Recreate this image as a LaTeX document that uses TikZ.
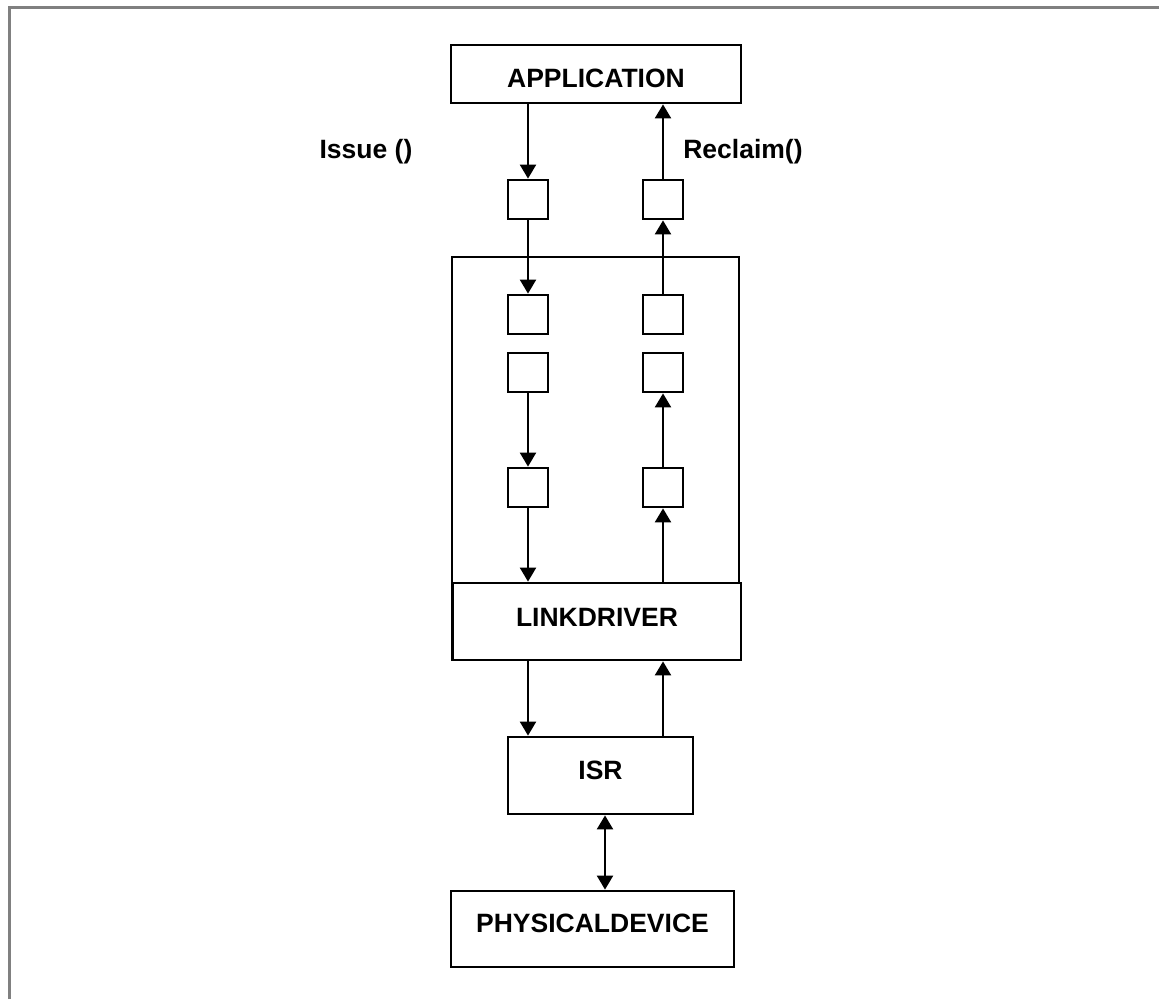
\documentclass[tikz,border=0pt]{standalone}
\usepackage{fontspec}
\setmainfont{Liberation Sans}
\usetikzlibrary{arrows.meta}
\begin{document}
\begin{tikzpicture}[x=1pt,y=-1pt,
  every node/.style={font=\bfseries\fontsize{26.5}{30}\selectfont},
  bigbox/.style={draw, line width=2.8pt, inner sep=0pt, anchor=center},
  qbox/.style={draw, line width=2.8pt, minimum width=40pt, minimum height=39pt, inner sep=0pt},
  lbl/.style={inner sep=0pt},
  flow/.style={line width=2.3pt, -{Triangle[width=16pt,length=14pt]}},
  bothflow/.style={line width=2.3pt, {Triangle[width=16pt,length=14pt]}-{Triangle[width=16pt,length=14pt]}}]
\useasboundingbox (0,0) rectangle (1159,999);
\draw[line width=3pt, color=black!50] (9.5,999) -- (9.5,7.5) -- (1159,7.5);
% outer frame
\node[draw, line width=2.8pt, minimum width=287pt, minimum height=403pt, inner sep=0pt] (frame) at (595.5,458.5) {};
% boxes
\node[bigbox, minimum width=290pt, minimum height=58pt, text height=26pt, text depth=0pt] (app) at (596,74) {APPLICATION};
\node[bigbox, fill=white, minimum width=288pt, minimum height=77pt, text height=19pt, text depth=9pt] (link) at (597,621.5) {LINKDRIVER};
\node[bigbox, minimum width=185pt, minimum height=77pt, text height=19pt, text depth=11pt] (isr) at (600.5,775.5) {ISR};
\node[bigbox, minimum width=283pt, minimum height=76pt, text height=19pt, text depth=12pt] (phys) at (592.5,929) {PHYSICALDEVICE};
% labels
\node[lbl] (issue) at (366,152) {Issue ()};
\node[lbl] (reclaim) at (743,152) {Reclaim()};
% queues
\node[qbox] (q1L) at (528,199.5) {};
\node[qbox] (q2L) at (528,314.5) {};
\node[qbox] (q3L) at (528,372.5) {};
\node[qbox] (q4L) at (528,487.5) {};
\node[qbox] (q1R) at (663,199.5) {};
\node[qbox] (q2R) at (663,314.5) {};
\node[qbox] (q3R) at (663,372.5) {};
\node[qbox] (q4R) at (663,487.5) {};
% down path
\draw[flow] (app.south -| q1L) -- (q1L.north);
\draw[flow] (q1L.south) -- (q2L.north);
\draw[flow] (q3L.south) -- (q4L.north);
\draw[flow] (q4L.south) -- (link.north -| q4L);
% up path
\draw[flow] (link.north -| q4R) -- (q4R.south);
\draw[flow] (q4R.north) -- (q3R.south);
\draw[flow] (q2R.north) -- (q1R.south);
\draw[flow] (q1R.north) -- (app.south -| q1R);
% driver/isr
\draw[flow] (link.south -| q4L) -- (isr.north -| q4L);
\draw[flow] (isr.north -| q4R) -- (link.south -| q4R);
\coordinate (mid) at (605,850);
\draw[bothflow] (isr.south -| mid) -- (phys.north -| mid);
\end{tikzpicture}
\end{document}
